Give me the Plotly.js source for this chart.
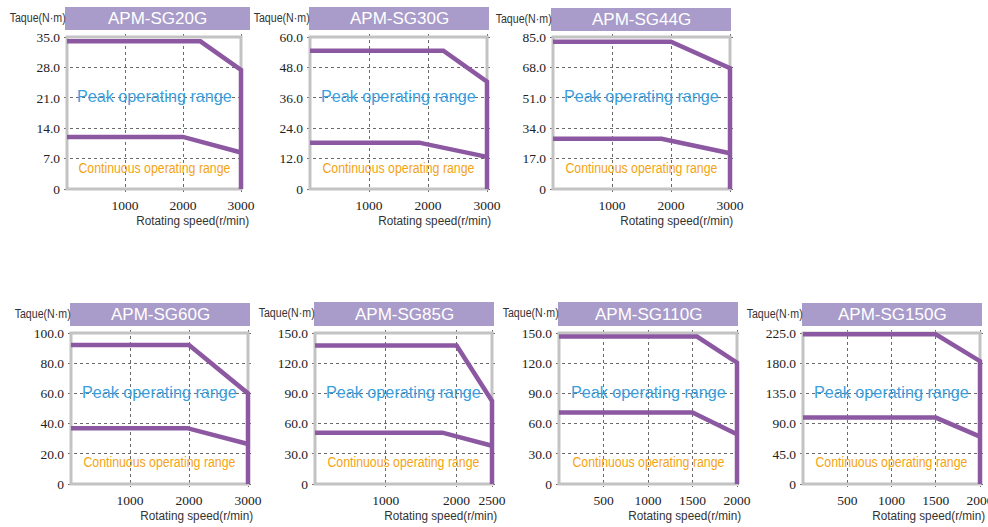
<!DOCTYPE html>
<html><head><meta charset="utf-8">
<script src="https://cdn.plot.ly/plotly-3.0.1.min.js"></script>
<style>html,body{margin:0;padding:0;background:#fff}#chart{width:988px;height:527px}</style>
</head><body><div id="chart"></div>
<script>
// ---------- DATA ----------
const models = ['APM-SG20G','APM-SG30G','APM-SG44G','APM-SG60G','APM-SG85G','APM-SG110G','APM-SG150G'];
const maxSpeed = [3000,3000,3000,3000,2500,2000,2000];
const maxTorqueAxis = [35,60,85,100,150,150,225];

const peakSpeed_SG20G = [0,2300,3000,3000];   const peakTorque_SG20G = [34,34,27.4,0];
const contSpeed_SG20G = [0,2000,3000];        const contTorque_SG20G = [12,12,8.4];
const peakSpeed_SG30G = [0,2260,3000,3000];   const peakTorque_SG30G = [54.6,54.6,42.4,0];
const contSpeed_SG30G = [0,1850,3000];        const contTorque_SG30G = [18.3,18.3,12.7];
const peakSpeed_SG44G = [0,2000,3000,3000];   const peakTorque_SG44G = [82.4,82.4,67.5,0];
const contSpeed_SG44G = [0,1840,3000];        const contTorque_SG44G = [28.1,28.1,20];
const peakSpeed_SG60G = [0,2000,3000,3000];   const peakTorque_SG60G = [92,92,60,0];
const contSpeed_SG60G = [0,1970,3000];        const contTorque_SG60G = [37,37,26.5];
const peakSpeed_SG85G = [0,2000,2500,2500];   const peakTorque_SG85G = [137.5,137.5,82.5,0];
const contSpeed_SG85G = [0,1800,2500];        const contTorque_SG85G = [51,51,38];
const peakSpeed_SG110G = [0,1550,2000,2000];  const peakTorque_SG110G = [146.5,146.5,120.5,0];
const contSpeed_SG110G = [0,1500,2000];       const contTorque_SG110G = [71,71,49.5];
const peakSpeed_SG150G = [0,1500,2000,2000];  const peakTorque_SG150G = [223,223,183,0];
const contSpeed_SG150G = [0,1500,2000];       const contTorque_SG150G = [99,99,70.5];

const yTickVals_SG20G = [0,7,14,21,28,35];        const yTickText_SG20G = ['0','7.0','14.0','21.0','28.0','35.0'];
const yTickVals_SG30G = [0,12,24,36,48,60];       const yTickText_SG30G = ['0','12.0','24.0','36.0','48.0','60.0'];
const yTickVals_SG44G = [0,17,34,51,68,85];       const yTickText_SG44G = ['0','17.0','34.0','51.0','68.0','85.0'];
const yTickVals_SG60G = [0,20,40,60,80,100];      const yTickText_SG60G = ['0','20.0','40.0','60.0','80.0','100.0'];
const yTickVals_SG85G = [0,30,60,90,120,150];     const yTickText_SG85G = ['0','30.0','60.0','90.0','120.0','150.0'];
const yTickVals_SG110G = [0,30,60,90,120,150];    const yTickText_SG110G = ['0','30.0','60.0','90.0','120.0','150.0'];
const yTickVals_SG150G = [0,45,90,135,180,225];   const yTickText_SG150G = ['0','45.0','90.0','135.0','180.0','225.0'];

const xTickVals_3000 = [1000,2000,3000];          const xTickText_3000 = ['1000','2000','3000'];
const xTickVals_2500 = [1000,2000,2500];          const xTickText_2500 = ['1000','2000','2500'];
const xTickVals_2000 = [500,1000,1500,2000];      const xTickText_2000 = ['500','1000','1500','2000'];

const yAxisLabel = 'Taque(N·m)';
const xAxisLabel = 'Rotating speed(r/min)';
const peakLabel = 'Peak operating range';
const contLabel = 'Continuous operating range';

const peakSpeeds = [peakSpeed_SG20G,peakSpeed_SG30G,peakSpeed_SG44G,peakSpeed_SG60G,peakSpeed_SG85G,peakSpeed_SG110G,peakSpeed_SG150G];
const peakTorques = [peakTorque_SG20G,peakTorque_SG30G,peakTorque_SG44G,peakTorque_SG60G,peakTorque_SG85G,peakTorque_SG110G,peakTorque_SG150G];
const contSpeeds = [contSpeed_SG20G,contSpeed_SG30G,contSpeed_SG44G,contSpeed_SG60G,contSpeed_SG85G,contSpeed_SG110G,contSpeed_SG150G];
const contTorques = [contTorque_SG20G,contTorque_SG30G,contTorque_SG44G,contTorque_SG60G,contTorque_SG85G,contTorque_SG110G,contTorque_SG150G];
const yTickVals = [yTickVals_SG20G,yTickVals_SG30G,yTickVals_SG44G,yTickVals_SG60G,yTickVals_SG85G,yTickVals_SG110G,yTickVals_SG150G];
const yTickTexts = [yTickText_SG20G,yTickText_SG30G,yTickText_SG44G,yTickText_SG60G,yTickText_SG85G,yTickText_SG110G,yTickText_SG150G];
const xTickVals = [xTickVals_3000,xTickVals_3000,xTickVals_3000,xTickVals_3000,xTickVals_2500,xTickVals_2000,xTickVals_2000];
const xTickTexts = [xTickText_3000,xTickText_3000,xTickText_3000,xTickText_3000,xTickText_2500,xTickText_2000,xTickText_2000];

// ---------- LAYOUT GEOMETRY (pixels) ----------
const W = 988, H = 527, PAD = 3;
const panels = [
  {fx:[67,241],  fy:[37,189],  bar:[65,250,7,30],    xr:249, contY:0.152},
  {fx:[310,487], fy:[37,189],  bar:[309,489,7,30],   xr:491, contY:0.152},
  {fx:[553,730], fy:[37,189],  bar:[551,731,8,31],   xr:733, contY:0.152},
  {fx:[71,248],  fy:[333,484], bar:[70,250,303,326], xr:253, contY:0.161},
  {fx:[315,492], fy:[333,484], bar:[314,494,302,326],xr:497, contY:0.161},
  {fx:[559,737], fy:[333,484], bar:[558,738,302,326],xr:741, contY:0.161},
  {fx:[803,980], fy:[333,484], bar:[802,982,303,326],xr:985, contY:0.161}
];
// rendered text widths (px) of the narrow label typeface
const textWidths = {};
textWidths[yAxisLabel] = 56; textWidths[xAxisLabel] = 113;
textWidths[peakLabel] = 155; textWidths[contLabel] = 152;

const PURPLE = '#8c58a2', FRAME = '#c3c3c3', BAR = '#a99cca';
const BLUE = '#3a9ede', ORANGE = '#f4a412';
const SERIF = 'Liberation Serif, Times New Roman, serif';
const SANS = 'Liberation Sans, Arial, sans-serif';

const data = [], shapes = [], annotations = [];
const layout = {
  width: W, height: H, margin:{l:0,r:0,t:0,b:0},
  paper_bgcolor:'#ffffff', plot_bgcolor:'rgba(0,0,0,0)', showlegend:false,
  shapes, annotations
};
const px2x = p => p / W;
const px2y = p => 1 - p / H;

models.forEach((m, i) => {
  const n = i === 0 ? '' : String(i + 1);
  const xa = 'x' + n, ya = 'y' + n;
  const p = panels[i];
  const xmax = maxSpeed[i], ymax = maxTorqueAxis[i];
  const fw = p.fx[1] - p.fx[0], fh = p.fy[1] - p.fy[0];
  const padX = PAD * xmax / fw, padY = PAD * ymax / fh;

  layout['xaxis' + n] = {
    domain:[px2x(p.fx[0]-PAD), px2x(p.fx[1]+PAD)], range:[-padX, xmax+padX],
    anchor: ya, tickmode:'array', tickvals:xTickVals[i], ticktext:xTickTexts[i],
    showgrid:true, gridcolor:'#6a6a6a', griddash:'dot', gridwidth:1,
    zeroline:false, showline:false, ticks:'', ticklabelstandoff:3, ticklabeloverflow:'allow',
    tickfont:{family:SERIF, size:13.5, color:'#222'}, fixedrange:true
  };
  layout['yaxis' + n] = {
    domain:[px2y(p.fy[1]+PAD), px2y(p.fy[0]-PAD)], range:[-padY, ymax+padY],
    anchor: xa, tickmode:'array', tickvals:yTickVals[i], ticktext:yTickTexts[i],
    showgrid:true, gridcolor:'#6a6a6a', griddash:'dot', gridwidth:1,
    zeroline:false, showline:false, ticks:'', ticklabelstandoff:3, ticklabeloverflow:'allow',
    tickfont:{family:SERIF, size:13.5, color:'#222'}, fixedrange:true
  };

  shapes.push({type:'rect', xref:xa, yref:ya, x0:0, x1:xmax, y0:0, y1:ymax,
    line:{color:FRAME, width:3}, fillcolor:'rgba(0,0,0,0)', layer:'between'});
  shapes.push({type:'rect', xref:'paper', yref:'paper',
    x0:px2x(p.bar[0]), x1:px2x(p.bar[1]), y0:px2y(p.bar[3]), y1:px2y(p.bar[2]),
    line:{width:0}, fillcolor:BAR, layer:'above'});

  data.push({x:peakSpeeds[i], y:peakTorques[i], xaxis:xa, yaxis:ya, mode:'lines',
    line:{color:PURPLE, width:4.5}, hoverinfo:'skip'});
  data.push({x:contSpeeds[i], y:contTorques[i], xaxis:xa, yaxis:ya, mode:'lines',
    line:{color:PURPLE, width:4.5}, hoverinfo:'skip'});

  annotations.push({xref:'paper', yref:'paper', x:px2x((p.bar[0]+p.bar[1])/2), y:px2y((p.bar[2]+p.bar[3])/2),
    text:m, showarrow:false, xanchor:'center', yanchor:'middle',
    font:{family:SANS, size:17, color:'#ffffff'}});
  annotations.push({xref:'paper', yref:'paper', x:px2x(p.bar[0] - textWidths[yAxisLabel]/2), y:px2y((p.bar[2]+p.bar[3])/2 - 1),
    text:yAxisLabel, showarrow:false, xanchor:'center', yanchor:'middle',
    font:{family:SANS, size:12, color:'#333'}});
  annotations.push({xref:'paper', yref:'paper', x:px2x(p.xr - textWidths[xAxisLabel]/2), y:px2y(p.fy[1]+32),
    text:xAxisLabel, showarrow:false, xanchor:'center', yanchor:'middle',
    font:{family:SANS, size:12, color:'#333'}});
  annotations.push({xref:xa+' domain', yref:ya+' domain', x:0.5, y:0.608,
    text:peakLabel, showarrow:false, xanchor:'center', yanchor:'middle',
    font:{family:SANS, size:16.2, color:BLUE}});
  annotations.push({xref:xa+' domain', yref:ya+' domain', x:0.5, y:p.contY,
    text:contLabel, showarrow:false, xanchor:'center', yanchor:'middle',
    font:{family:SANS, size:14, color:ORANGE}});
});

Plotly.newPlot('chart', data, layout, {displayModeBar:false, staticPlot:true}).then(gd => {
  // fit label text to the narrow widths of the reference typeface
  gd.querySelectorAll('.annotation-text').forEach(t => {
    const w = textWidths[t.textContent];
    if (w) {
      t.setAttribute('textLength', w);
      t.setAttribute('lengthAdjust', 'spacingAndGlyphs');
    }
  });
});
</script>
</body></html>
